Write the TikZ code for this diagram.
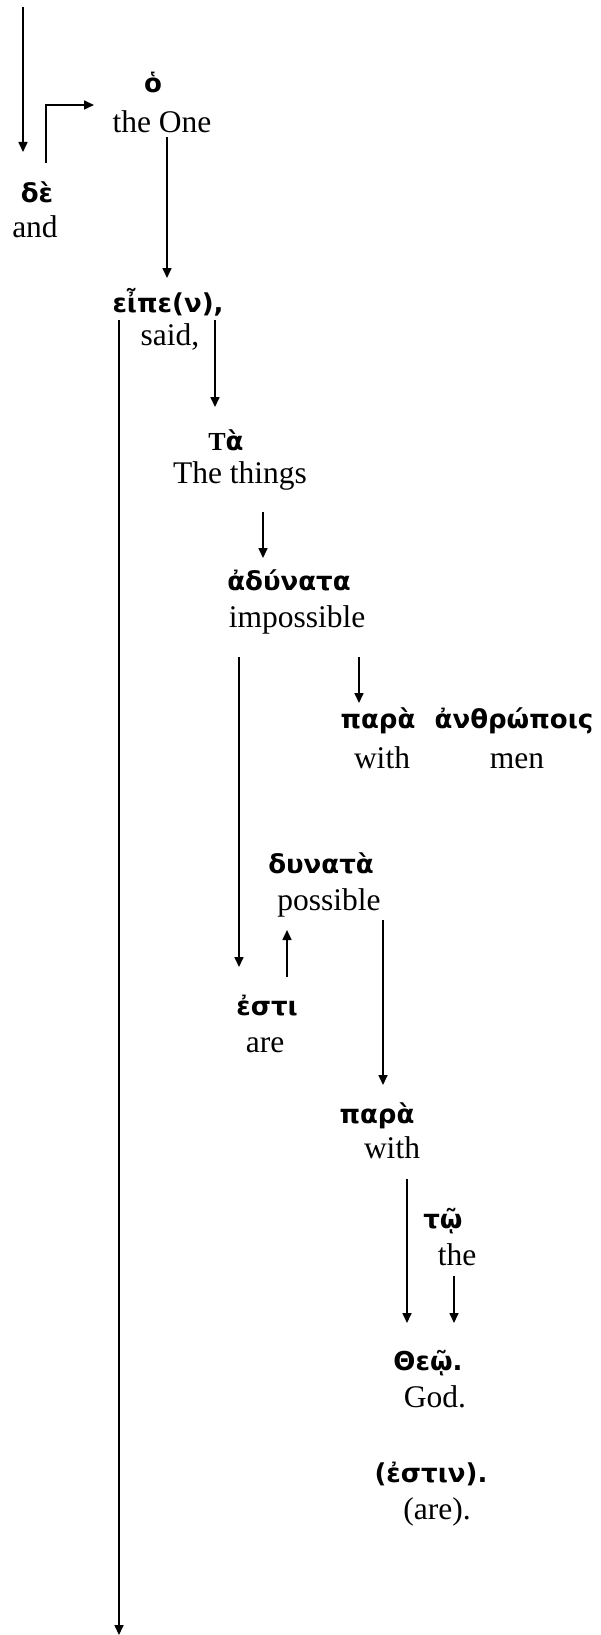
\documentclass[tikz,border=0pt]{standalone}
\usepackage{fontspec}
\setmainfont{Liberation Serif}
\newfontfamily\grk{DejaVu Sans}
\usetikzlibrary{arrows.meta}
\tikzset{
  en/.style={font=\fontsize{31.5}{36}\selectfont, anchor=base, inner sep=0pt},
  gr/.style={font=\grk\bfseries\fontsize{26}{30}\selectfont, anchor=base, inner sep=0pt},
  ln/.style={line width=1.6pt},
  arr/.style={line width=1.6pt, -{Triangle[length=10pt,width=9pt]}}
}
\begin{document}
\begin{tikzpicture}[x=1pt,y=-1pt]
\useasboundingbox (0,0) rectangle (600,1635);
% words
\node[gr] (ho) at (153,93) {ὁ};
\node[en] (theone) at (162,132) {the One};
\node[gr] (de) at (37,202) {δὲ};
\node[en] (and) at (35,237) {and};
\node[gr] (eipen) at (168,312) {εἶπε(ν),};
\node[en] (said) at (170,345) {said,};
\node[gr] (ta) at (226,450) {{\rmfamily Τ}ὰ};
\node[en] (things) at (240,483) {The things};
\node[gr] (adunata) at (289,590) {ἀδύνατα};
\node[en] (impossible) at (297,627) {impossible};
\node[gr] (para1) at (378,728) {παρὰ};
\node[gr] (anthr) at (514,728) {ἀνθρώποις};
\node[en] (with1) at (382,768) {with};
\node[en] (men) at (517,768) {men};
\node[gr] (dunata) at (321,873) {δυνατὰ};
\node[en] (possible) at (329,910) {possible};
\node[gr] (esti) at (267,1015) {ἐστι};
\node[en] (are) at (265,1052) {are};
\node[gr] (para2) at (377,1123) {παρὰ};
\node[en] (with2) at (392,1158) {with};
\node[gr] (toi) at (443,1228) {τῷ};
\node[en] (the) at (457,1265) {the};
\node[gr] (theoi) at (428,1370) {Θεῷ.};
\node[en] (god) at (435,1407) {God.};
\node[gr] (estin) at (431,1482) {(ἐστιν).};
\node[en] (are2) at (437,1519) {(are).};
% connector end points
\coordinate (c1a) at (23,7);    \coordinate (c1b) at (23,152);
\coordinate (c2a) at (46,163);  \coordinate (c2m) at (46,105); \coordinate (c2b) at (94,105);
\coordinate (c3a) at (167,137); \coordinate (c3b) at (167,278);
\coordinate (c4a) at (119,320); \coordinate (c4b) at (119,1635);
\coordinate (c5a) at (215,320); \coordinate (c5b) at (215,407);
\coordinate (c6a) at (263,512); \coordinate (c6b) at (263,558);
\coordinate (c7a) at (239,657); \coordinate (c7b) at (239,967);
\coordinate (c8a) at (359,657); \coordinate (c8b) at (359,703);
\coordinate (c9a) at (287,977); \coordinate (c9b) at (287,930);
\coordinate (c10a) at (383,920); \coordinate (c10b) at (383,1085);
\coordinate (c11a) at (407,1179); \coordinate (c11b) at (407,1323);
\coordinate (c12a) at (454,1276); \coordinate (c12b) at (454,1323);
% connectors
\draw[arr] (c1a) -- (c1b);
\draw[arr] (c2a) -- (c2m) -- (c2b);
\draw[arr] (c3a) -- (c3b);
\draw[arr] (c4a) -- (c4b);
\draw[arr] (c5a) -- (c5b);
\draw[arr] (c6a) -- (c6b);
\draw[arr] (c7a) -- (c7b);
\draw[arr] (c8a) -- (c8b);
\draw[arr] (c9a) -- (c9b);
\draw[arr] (c10a) -- (c10b);
\draw[arr] (c11a) -- (c11b);
\draw[arr] (c12a) -- (c12b);
\end{tikzpicture}
\end{document}
